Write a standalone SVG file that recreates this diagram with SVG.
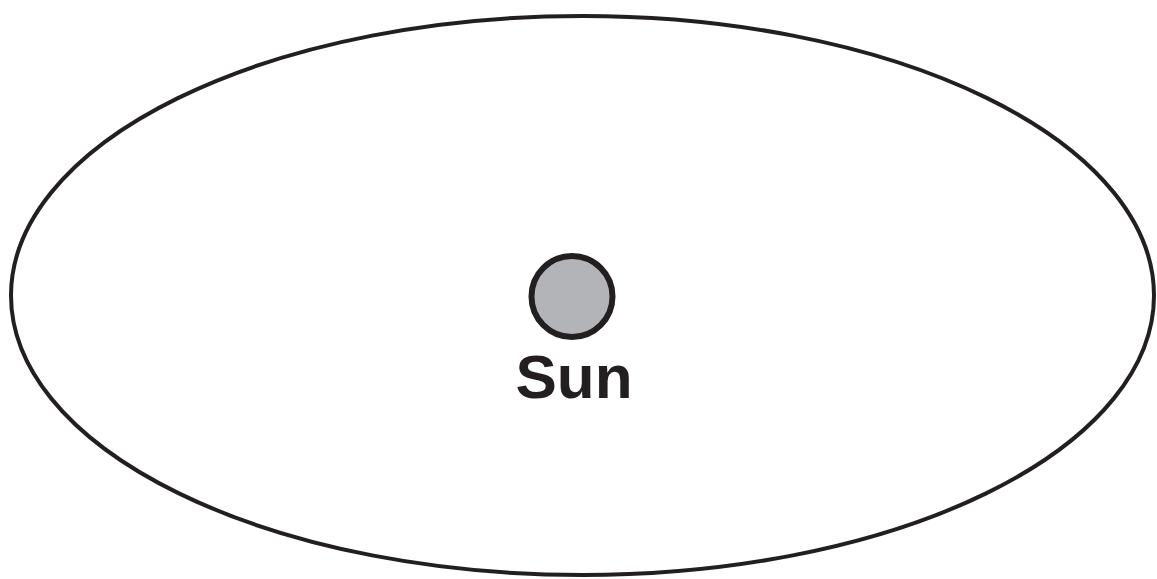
<svg xmlns="http://www.w3.org/2000/svg" width="1157" height="579" viewBox="0 0 1157 579">
<style>
.orbit{fill:none;stroke:#231f20;stroke-width:4}
.sun{fill:#b3b4b7;stroke:#231f20;stroke-width:6}
.label{font-family:"Liberation Sans",Arial,sans-serif;font-weight:bold;font-size:62px;fill:#231f20;text-anchor:middle}
</style>
<rect width="1157" height="579" fill="#ffffff"/>
<g id="orbit">
<ellipse class="orbit" cx="582.5" cy="295.5" rx="571.5" ry="279.5"/>
</g>
<g id="sun">
<circle class="sun" cx="572" cy="296.5" r="40.5"/>
<text class="label" x="574" y="398">Sun</text>
</g>
</svg>
